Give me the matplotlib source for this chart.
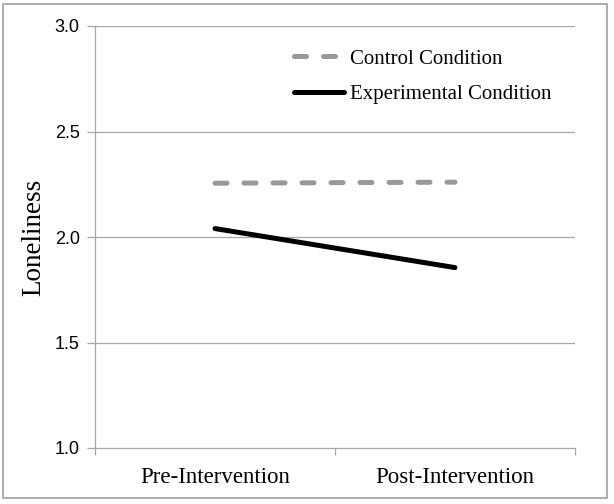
import matplotlib
matplotlib.use("Agg")
import matplotlib.pyplot as plt
from matplotlib.patches import Rectangle

categories = ["Pre-Intervention", "Post-Intervention"]
control = [2.255, 2.26]
experimental = [2.04, 1.855]
yticks = [1.0, 1.5, 2.0, 2.5, 3.0]

fig = plt.figure(figsize=(6.14, 5.04), dpi=100)
ax = fig.add_axes([95/614, 56/504, 480/614, 422/504])

xs = [0.5, 1.5]
grid_c = "#a6a6a6"
ax.plot(xs, control, color="#999999", lw=3.6, linestyle=(0, (2.4, 3.4)),
        dash_capstyle="round", solid_capstyle="round", label="Control Condition", zorder=3)
ax.plot(xs, experimental, color="black", lw=3.6, solid_capstyle="round",
        label="Experimental Condition", zorder=3)

ax.set_xlim(0, 2)
ax.set_ylim(1.0, 3.0)
ax.set_yticks(yticks)
ax.set_yticklabels([f"{v:.1f}" for v in yticks], fontfamily="Liberation Sans", fontsize=13)
for v in yticks[1:]:
    ax.axhline(v, color=grid_c, lw=0.9, zorder=1)

ax.set_xticks([0, 1, 2])
ax.set_xticklabels([])
ax.set_xticks(xs, minor=True)
ax.set_xticklabels(categories, minor=True, fontfamily="Liberation Serif", fontsize=16.5)
ax.tick_params(axis="x", which="minor", length=0, pad=14)
ax.tick_params(axis="x", which="major", length=5, color=grid_c, width=0.9)
ax.tick_params(axis="y", length=6, color=grid_c, width=0.9, pad=5)

for s in ["top", "right"]:
    ax.spines[s].set_visible(False)
for s in ["left", "bottom"]:
    ax.spines[s].set_color(grid_c)
    ax.spines[s].set_linewidth(0.9)

ax.set_ylabel("Loneliness", fontfamily="Liberation Serif", fontsize=19.5, labelpad=6)

leg = ax.legend(loc="upper left", bbox_to_anchor=(0.397, 0.965), frameon=False,
                prop={"family": "Liberation Serif", "size": 15}, handlelength=2.4,
                handletextpad=0.3, labelspacing=0.75, borderaxespad=0)

fig.patches.append(Rectangle((3/614, 6/504), 604/614, 494/504, transform=fig.transFigure,
                             fill=False, edgecolor="#a0a0a0", lw=1.2))

fig.savefig("out.png", dpi=100)
